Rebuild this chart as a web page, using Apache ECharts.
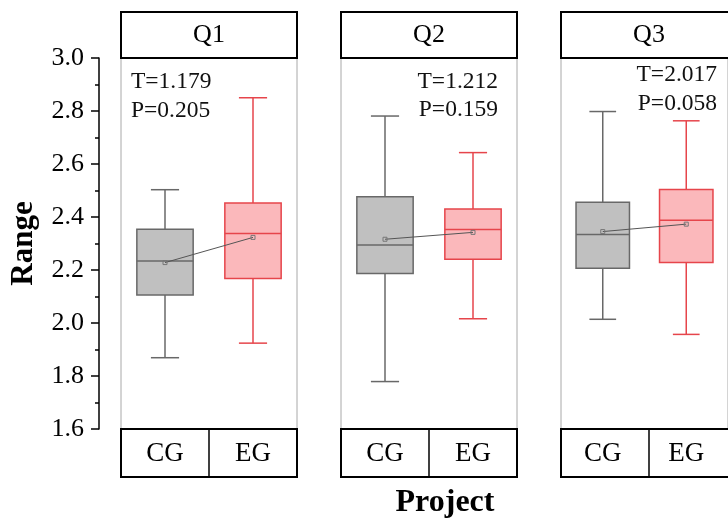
<!DOCTYPE html>
<html><head><meta charset="utf-8">
<script src="https://cdn.jsdelivr.net/npm/echarts@6/dist/echarts.min.js"></script>
<style>html,body{margin:0;padding:0;background:#fff}#c{width:728px;height:520px}</style>
</head><body><div id="c"></div>
<script>
// ---- data ----
const panels = ['Q1', 'Q2', 'Q3'];
const categories = ['CG', 'EG'];
// [min, Q1, median, Q3, max]
const cgBox = [
  [1.869, 2.106, 2.234, 2.354, 2.503],
  [1.779, 2.187, 2.294, 2.476, 2.781],
  [2.014, 2.207, 2.334, 2.456, 2.798]
];
const egBox = [
  [1.924, 2.168, 2.338, 2.453, 2.850],
  [2.016, 2.241, 2.353, 2.430, 2.643],
  [1.957, 2.228, 2.388, 2.504, 2.763]
];
const cgMean = [2.228, 2.316, 2.345];
const egMean = [2.323, 2.342, 2.373];
const tLabels = ['T=1.179', 'T=1.212', 'T=2.017'];
const pLabels = ['P=0.205', 'P=0.159', 'P=0.058'];
const yMin = 1.6, yMax = 3.0, yStep = 0.2;
const yTitle = 'Range';
const xTitle = 'Project';

// ---- layout / style ----
const FONT = '"Liberation Serif", "Times New Roman", serif';
const gridLeft0 = 121, gridStep = 220, gridW = 176, gridTop = 58, gridH = 371;
const headerH = 46, footerH = 48;
const styles = [
  { fill: '#c0c0c0', stroke: '#686868' },
  { fill: '#fbb8bb', stroke: '#e6454b' }
];
const statPos = [
  { x: 131, y1: 82, y2: 111, align: 'left' },
  { x: 498, y1: 82, y2: 110, align: 'right' },
  { x: 717, y1: 75, y2: 104, align: 'right' }
];

const chart = echarts.init(document.getElementById('c'), null, { renderer: 'canvas' });
const grids = [], xAxes = [], yAxes = [], series = [], graphics = [];

panels.forEach((p, i) => {
  const left = gridLeft0 + i * gridStep;
  grids.push({ left, top: gridTop, width: gridW, height: gridH, show: true,
    borderColor: '#a8a8a8', borderWidth: 1, backgroundColor: 'transparent' });
  xAxes.push({ type: 'category', gridIndex: i, data: categories,
    axisLine: { show: false }, axisTick: { show: false }, splitLine: { show: false },
    axisLabel: { margin: 11, fontSize: 27, lineHeight: 27, fontFamily: FONT, color: '#000' } });
  const y = { type: 'value', gridIndex: i, min: yMin, max: yMax, interval: yStep,
    splitLine: { show: false } };
  if (i === 0) {
    Object.assign(y, {
      offset: 22,
      axisLine: { show: true, lineStyle: { color: '#000', width: 1.5 } },
      axisTick: { show: true, length: 8, lineStyle: { color: '#000', width: 1.5 } },
      minorTick: { show: true, splitNumber: 2, length: 4, lineStyle: { color: '#000', width: 1.5 } },
      axisLabel: { margin: 15, fontSize: 26, fontFamily: FONT, color: '#000',
        formatter: v => v.toFixed(1) },
      name: yTitle, nameLocation: 'middle', nameGap: 60, nameRotate: 90,
      nameTextStyle: { fontSize: 31, fontWeight: 'bold', fontFamily: FONT, color: '#000' }
    });
  } else {
    Object.assign(y, { axisLine: { show: false }, axisTick: { show: false }, axisLabel: { show: false } });
  }
  yAxes.push(y);

  const boxData = [cgBox[i], egBox[i]].map((b, j) => [j].concat(b));
  series.push({
    type: 'custom', xAxisIndex: i, yAxisIndex: i, data: boxData,
    encode: { x: 0, y: [1, 2, 3, 4, 5] }, z: 2,
    renderItem: (params, api) => {
      const j = api.value(0);
      const st = styles[j];
      const cx = api.coord([j, api.value(3)])[0];
      const bw = api.size([1, 0])[0] * 0.64;
      const yv = k => api.coord([j, api.value(k)])[1];
      const yLo = yv(1), yQ1 = yv(2), yMed = yv(3), yQ3 = yv(4), yHi = yv(5);
      const cap = bw / 4;
      const ls = { stroke: st.stroke, lineWidth: 1.5, fill: null };
      return { type: 'group', children: [
        { type: 'line', shape: { x1: cx, y1: yQ3, x2: cx, y2: yHi }, style: ls },
        { type: 'line', shape: { x1: cx, y1: yQ1, x2: cx, y2: yLo }, style: ls },
        { type: 'line', shape: { x1: cx - cap, y1: yHi, x2: cx + cap, y2: yHi }, style: ls },
        { type: 'line', shape: { x1: cx - cap, y1: yLo, x2: cx + cap, y2: yLo }, style: ls },
        { type: 'rect', shape: { x: cx - bw / 2, y: yQ3, width: bw, height: yQ1 - yQ3 },
          style: { fill: st.fill, stroke: st.stroke, lineWidth: 1.5 } },
        { type: 'line', shape: { x1: cx - bw / 2, y1: yMed, x2: cx + bw / 2, y2: yMed }, style: ls }
      ] };
    }
  });
  series.push({
    type: 'line', xAxisIndex: i, yAxisIndex: i, z: 3,
    data: [[0, cgMean[i]], [1, egMean[i]]],
    symbol: 'rect', symbolSize: 4, showSymbol: true,
    itemStyle: { color: 'rgba(0,0,0,0)', borderColor: '#777', borderWidth: 1 },
    lineStyle: { color: '#555', width: 1 }, silent: true
  });

  // header box
  graphics.push({ type: 'rect', z: 10, shape: { x: left, y: gridTop - headerH, width: gridW, height: headerH },
    style: { fill: '#fff', stroke: '#000', lineWidth: 2 } });
  graphics.push({ type: 'text', z: 11, x: left + gridW / 2, y: gridTop - headerH / 2,
    style: { text: p, fontSize: 26, fontFamily: FONT, fill: '#000', align: 'center', verticalAlign: 'middle' } });
  // footer box
  graphics.push({ type: 'rect', z: 10, shape: { x: left, y: gridTop + gridH, width: gridW, height: footerH },
    style: { fill: 'none', stroke: '#000', lineWidth: 2 } });
  graphics.push({ type: 'line', z: 10, shape: { x1: left + gridW / 2, y1: gridTop + gridH, x2: left + gridW / 2, y2: gridTop + gridH + footerH },
    style: { stroke: '#000', lineWidth: 1.5 } });
  // stats text
  const sp = statPos[i];
  graphics.push({ type: 'text', z: 11, x: sp.x, y: sp.y1,
    style: { text: tLabels[i], fontSize: 23.5, fontFamily: FONT, fill: '#111', align: sp.align, verticalAlign: 'middle' } });
  graphics.push({ type: 'text', z: 11, x: sp.x, y: sp.y2,
    style: { text: pLabels[i], fontSize: 23.5, fontFamily: FONT, fill: '#111', align: sp.align, verticalAlign: 'middle' } });
});

graphics.push({ type: 'text', z: 11, x: 445, y: 503,
  style: { text: xTitle, fontSize: 32, fontWeight: 'bold', fontFamily: FONT, fill: '#000', align: 'center', verticalAlign: 'middle' } });

chart.setOption({
  animation: false,
  backgroundColor: '#fff',
  grid: grids, xAxis: xAxes, yAxis: yAxes, series: series,
  graphic: { elements: graphics }
});
</script></body></html>
